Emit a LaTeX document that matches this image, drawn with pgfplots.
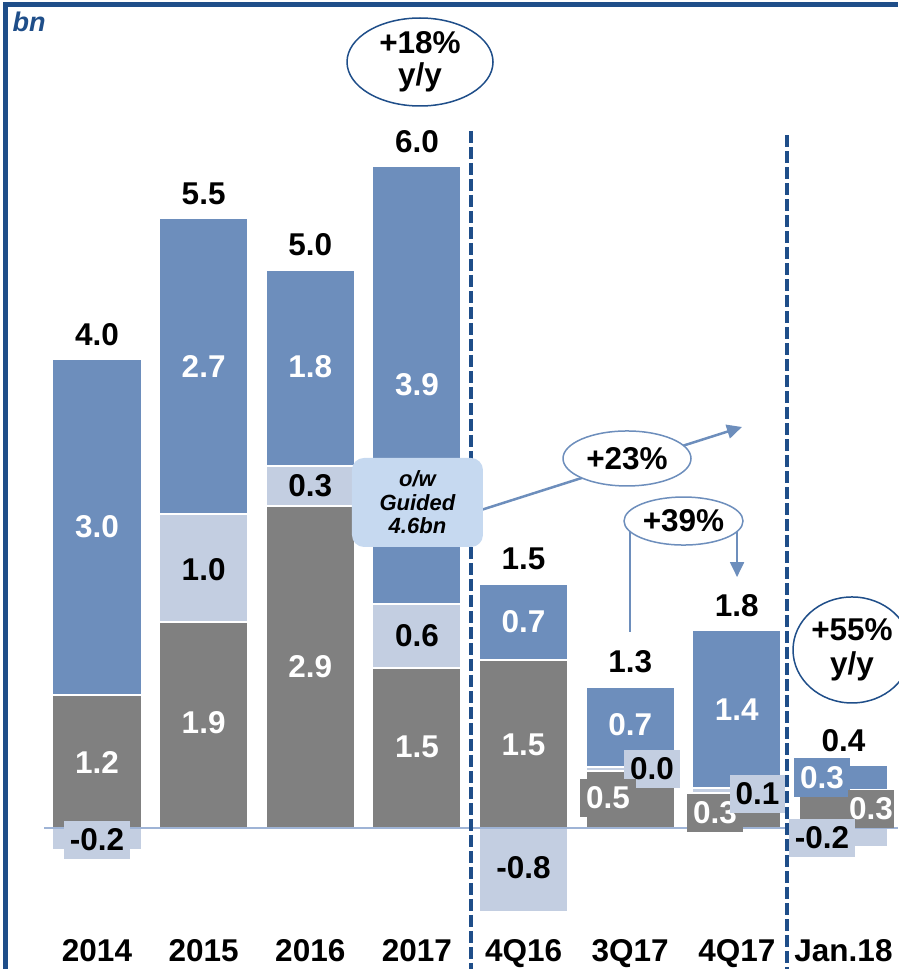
\documentclass[border=0pt]{standalone}
\usepackage{pgfplots}
\pgfplotsset{compat=1.18}
\usepackage{fontspec}
\setmainfont{Liberation Sans}
\usetikzlibrary{shapes.geometric,arrows.meta}

\definecolor{cBlue}{HTML}{6D8EBC}
\definecolor{cGray}{HTML}{808080}
\definecolor{cLight}{HTML}{C3CEE1}
\definecolor{cDark}{HTML}{1F4E89}
\definecolor{cZero}{HTML}{9FB4D6}
\definecolor{cNote}{HTML}{C6D9F0}

\newcommand{\lab}{\bfseries\fontsize{31.5}{33}\selectfont}

\pgfplotsset{
  base/.style={
    width=898pt, height=969pt, scale only axis,
    xmin=-0.9096, xmax=7.5113, ymin=-1.276, ymax=7.4932,
    axis line style={draw=none}, tick style={draw=none},
    ytick=\empty, xtick=\empty, clip=false,
    bar width=0.835,
  },
  seg/.style={draw=white, line width=2pt},
}

\tikzset{
  tot/.style={font=\lab, anchor=base, inner sep=0pt, yshift=14pt},
  wl/.style={font=\lab, text=white},
  bl/.style={font=\lab},
  box/.style={font=\lab, inner xsep=6pt, inner ysep=0pt, minimum height=38pt},
}

\begin{document}
\begin{tikzpicture}
% positive parts, stacked
\begin{axis}[base, name=main, ybar stacked,
  xtick={0,...,7},
  xticklabels={2014,2015,2016,2017,4Q16,3Q17,4Q17,Jan.18},
  xticklabel style={font=\lab, anchor=base, yshift=8pt, inner sep=0pt}]
  \addplot[seg, fill=cGray] coordinates {(0,1.20) (1,1.86) (2,2.91) (3,1.45) (4,1.52) (5,0.52) (6,0.32) (7,0.30)};
  \addplot[seg, fill=cLight] coordinates {(0,0) (1,0.98) (2,0.37) (3,0.58) (4,0) (5,0.03) (6,0.04) (7,0.04)};
  \addplot[seg, fill=cBlue] coordinates {(0,3.04) (1,2.68) (2,1.77) (3,3.96) (4,0.69) (5,0.73) (6,1.43) (7,0.23)};
\end{axis}

% negative parts and annotations
\begin{axis}[base, ybar, bar shift=0pt]
  \addplot[seg, fill=cLight] coordinates {(0,-0.20) (4,-0.76) (7,-0.17)};

  \draw[cZero, line width=2pt] (axis cs:-0.497,0) -- (axis cs:7.5113,0);

  % frame
  \draw[cDark, line width=4.5pt] (axis cs:-0.858,-1.276) -- (axis cs:-0.858,7.452) -- (axis cs:7.5113,7.452);
  \node[font=\bfseries\itshape\fontsize{27}{28}\selectfont, text=cDark] at (axis cs:-0.637,7.294) {bn};

  % separators
  \draw[cDark, line width=3.5pt, dash pattern=on 12pt off 4pt] (axis cs:3.507,6.308) -- (axis cs:3.507,-1.276);
  \draw[cDark, line width=3.5pt, dash pattern=on 12pt off 4pt] (axis cs:6.470,6.27) -- (axis cs:6.470,-1.276);

  % totals
  \node[tot] at (axis cs:0,4.24) {4.0};
  \node[tot] at (axis cs:1,5.52) {5.5};
  \node[tot] at (axis cs:2,5.05) {5.0};
  \node[tot] at (axis cs:3,5.99) {6.0};
  \node[tot] at (axis cs:4,2.21) {1.5};
  \node[tot] at (axis cs:5,1.28) {1.3};
  \node[tot] at (axis cs:6,1.79) {1.8};
  \node[tot] at (axis cs:7,0.57) {0.4};

  % segment values
  \node[wl] at (axis cs:0,2.724) {3.0};
  \node[wl] at (axis cs:0,0.597) {1.2};
  \node[wl] at (axis cs:1,4.172) {2.7};
  \node[bl] at (axis cs:1,2.335) {1.0};
  \node[wl] at (axis cs:1,0.95) {1.9};
  \node[wl] at (axis cs:2,4.172) {1.8};
  \node[bl] at (axis cs:2,3.095) {0.3};
  \node[wl] at (axis cs:2,1.457) {2.9};
  \node[wl] at (axis cs:3,4.009) {3.9};
  \node[bl] at (axis cs:3,1.738) {0.6};
  \node[wl] at (axis cs:3,0.733) {1.5};
  \node[wl] at (axis cs:4,1.864) {0.7};
  \node[wl] at (axis cs:4,0.751) {1.5};
  \node[bl] at (axis cs:4,-0.362) {-0.8};
  \node[wl] at (axis cs:5,0.932) {0.7};
  \node[wl] at (axis cs:6,1.068) {1.4};

  % boxed values on thin segments
  \node[box, fill=cLight] at (axis cs:0,-0.109) {-0.2};
  \node[box, fill=cLight] at (axis cs:5.204,0.534) {0.0};
  \node[box, fill=cGray, text=white] at (axis cs:4.792,0.271) {0.5};
  \node[box, fill=cGray, text=white] at (axis cs:5.795,0.140) {0.3};
  \node[box, fill=cLight] at (axis cs:6.194,0.312) {0.1};
  \node[box, fill=cBlue, text=white] at (axis cs:6.799,0.457) {0.3};
  \node[box, fill=cGray, text=white, inner xsep=1pt] at (axis cs:7.258,0.172) {0.3};
  \node[box, fill=cLight] at (axis cs:6.799,-0.086) {-0.2};

  % growth callouts
  \draw[cBlue, line width=2.5pt, -{Triangle[length=15pt,width=14pt]}] (axis cs:3.573,2.869) -- (axis cs:6.048,3.629);
  \node[ellipse, draw=cBlue, line width=1.5pt, fill=white, minimum width=128pt, minimum height=55pt,
        inner sep=0pt, font=\lab] at (axis cs:4.970,3.344) {+23\%};

  % guidance note
  \node[fill=cNote, rounded corners=12pt, minimum width=131pt, minimum height=89pt, align=center,
        font=\bfseries\itshape\fontsize{22}{23.5}\selectfont] at (axis cs:3.005,2.946) {o/w\\Guided\\4.6bn};

  \draw[cBlue, line width=2pt] (axis cs:4.998,1.774) -- (axis cs:4.998,2.778);
  \draw[cBlue, line width=2pt, -{Triangle[length=15pt,width=14pt]}] (axis cs:6.002,2.778) -- (axis cs:6.002,2.271);
  \node[ellipse, draw=cBlue, line width=1.5pt, fill=white, minimum width=119pt, minimum height=48pt,
        inner sep=0pt, font=\lab] at (axis cs:5.5,2.778) {+39\%};

  \node[ellipse, draw=cDark, line width=1.5pt, fill=white, minimum width=146pt, minimum height=88pt,
        inner sep=0pt, align=center, font=\bfseries\fontsize{31.5}{32}\selectfont] at (axis cs:3.029,6.932) {+18\%\\y/y};
  \node[ellipse, draw=cDark, line width=1.5pt, fill=white, minimum width=118pt, minimum height=106pt,
        inner sep=0pt, align=center, font=\bfseries\fontsize{31.5}{34}\selectfont] at (axis cs:7.080,1.611) {+55\%\\y/y};
\end{axis}
\pgfresetboundingbox
\useasboundingbox (main.south west) rectangle (main.north east);
\end{tikzpicture}
\end{document}
